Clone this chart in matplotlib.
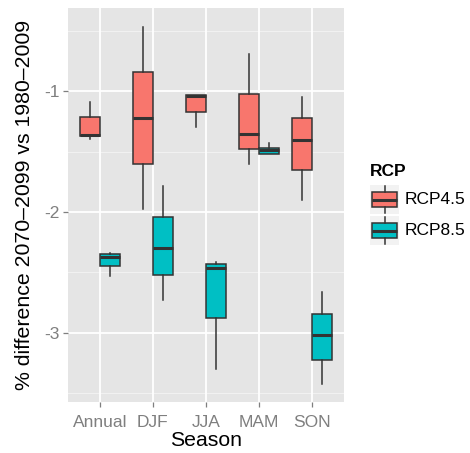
import matplotlib
matplotlib.use("Agg")
import matplotlib.pyplot as plt

plt.rcParams['font.family'] = ['Liberation Sans', 'DejaVu Sans']

# Data: whisker low, q1, median, q3, whisker high
seasons = ['Annual', 'DJF', 'JJA', 'MAM', 'SON']
rcp_names = ['RCP4.5', 'RCP8.5']

rcp45_low = [-1.398, -1.978, -1.298, -1.600, -1.901]
rcp45_q1 = [-1.373, -1.600, -1.174, -1.478, -1.652]
rcp45_med = [-1.359, -1.221, -1.040, -1.351, -1.401]
rcp45_q3 = [-1.210, -0.840, -1.030, -1.022, -1.221]
rcp45_high = [-1.086, -0.465, -1.030, -0.693, -1.044]

rcp85_low = [-2.530, -2.729, -3.301, -1.520, -3.428]
rcp85_q1 = [-2.450, -2.519, -2.881, -1.520, -3.229]
rcp85_med = [-2.370, -2.301, -2.461, -1.489, -3.019]
rcp85_q3 = [-2.348, -2.039, -2.434, -1.467, -2.842]
rcp85_high = [-2.342, -1.785, -2.414, -1.426, -2.666]

colors = ['#F8766D', '#00BFC4']
edge = '#333333'


def make_stats(low, q1, med, q3, high):
    return [dict(whislo=a, q1=b, med=c, q3=d, whishi=e, fliers=[])
            for a, b, c, d, e in zip(low, q1, med, q3, high)]


series = [make_stats(rcp45_low, rcp45_q1, rcp45_med, rcp45_q3, rcp45_high),
          make_stats(rcp85_low, rcp85_q1, rcp85_med, rcp85_q3, rcp85_high)]

fig = plt.figure(figsize=(4.7, 4.53), dpi=100)
ax = fig.add_axes([68 / 470, 1 - 402 / 453, 276 / 470, 394 / 453])
ax.set_facecolor('#E5E5E5')
for s in ax.spines.values():
    s.set_visible(False)

# grid
for v in [-0.5, -1.5, -2.5, -3.5]:
    ax.axhline(v, color='#F2F2F2', lw=0.7, zorder=0)
for v in [-1, -2, -3]:
    ax.axhline(v, color='white', lw=1.3, zorder=0)
for i in range(len(seasons)):
    ax.axvline(i + 1, color='white', lw=1.3, zorder=0)


def draw(axis, stats, pos, color, width):
    axis.bxp(stats, positions=pos, widths=width, patch_artist=True,
             showcaps=False, showfliers=False, manage_ticks=False,
             boxprops=dict(facecolor=color, edgecolor=edge, lw=1.1),
             whiskerprops=dict(color=edge, lw=1.1),
             medianprops=dict(color=edge, lw=2.2, solid_capstyle='butt'),
             zorder=3)


offsets = [-0.1875, 0.1875]
for stats, off, c in zip(series, offsets, colors):
    pos = [i + 1 + off for i in range(len(seasons))]
    draw(ax, stats, pos, c, 0.375)

ax.set_xlim(0.4, 5.6)
ax.set_ylim(-3.574, -0.31)
ax.set_xticks(range(1, len(seasons) + 1))
ax.set_xticklabels(seasons)
ax.set_yticks([-1, -2, -3])
ax.set_yticklabels(['-1', '-2', '-3'])
ax.tick_params(colors='#7F7F7F', labelsize=12.5, length=3.6, width=0.9)
ax.tick_params(axis='x', pad=5.5)
ax.tick_params(axis='y', pad=2.5)

fig.text(206 / 470, 1 - 441 / 453, 'Season', ha='center', va='center', fontsize=15.3)
fig.text(25 / 470, 1 - 205 / 453, '% difference 2070\u20132099 vs 1980\u20132009',
         ha='center', va='center', rotation=90, fontsize=15.3)

# legend
fig.text(370 / 470, 1 - 172 / 453, 'RCP', ha='left', va='center',
         fontsize=12.5, fontweight='bold')
key_tops = [185, 216]
key_stat = [dict(whislo=0.03, q1=0.24, med=0.5, q3=0.76, whishi=0.97, fliers=[])]
for top, c, name in zip(key_tops, colors, rcp_names):
    kax = fig.add_axes([370 / 470, 1 - (top + 29) / 453, 29 / 470, 29 / 453])
    kax.set_facecolor('#F2F2F2')
    for s in kax.spines.values():
        s.set_visible(False)
    kax.set_xticks([])
    kax.set_yticks([])
    kax.set_xlim(0, 1)
    kax.set_ylim(0, 1)
    draw(kax, key_stat, [0.5], c, 0.86)
    fig.text(405 / 470, 1 - (top + 14.5) / 453, name, ha='left', va='center',
             fontsize=12.5)

fig.savefig('out.png', dpi=100)
